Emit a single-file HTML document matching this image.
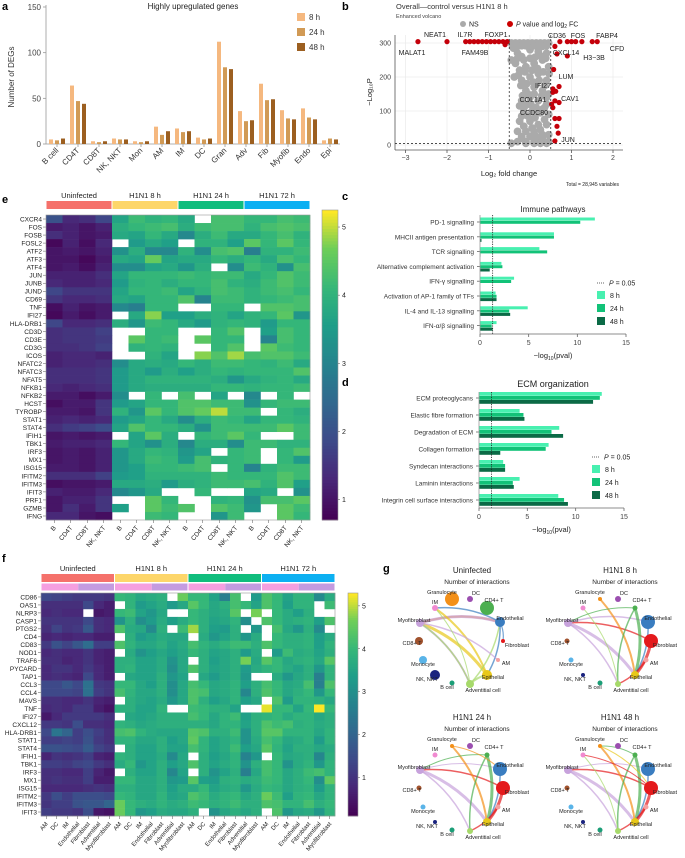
<!DOCTYPE html>
<html><head><meta charset="utf-8">
<style>
html,body{margin:0;padding:0;background:#fff;}
svg{display:block;font-family:"Liberation Sans",sans-serif;}
</style></head>
<body>
<svg id="fig" width="685" height="858" viewBox="0 0 685 858" xmlns="http://www.w3.org/2000/svg"></svg>
<script>
// ---------- DATA ----------
const degCategories = ["B cell","CD4T","CD8T","NK, NKT","Mon","AM","IM","DC","Gran","Adv","Fib","Myofib","Endo","Epi"];
const deg8h  = [5,64,3,6,3,19,17,7,112,36,66,37,39,4];
const deg24h = [4,47,2,5,2,10,13,5,84,25,48,28,29,6];
const deg48h = [6,44,3,5,3,14,14,6,82,26,49,27,27,5];
const degTicks = [0,50,100,150];

const volcanoNSx = [-0.45,-0.35,-0.25,-0.15,-0.05,0.05,0.15,0.25,0.35,0.45,-0.4,-0.3,-0.45,-0.35,-0.2,0,0.2,0.4,0.3,-0.25,-0.1,0.1,0.45,-0.2,0,0.2,0.4,-0.1,0.1,0.3,0.45,-0.2,0,0.2,0.4,-0.15,0.05,0.25,0.45,-0.25,0,0.2,0.4,-0.3,-0.1,0.1,0.3,0.45,-0.3,-0.1,0.1,0.3,0.45,-0.45,-0.2,0.2,-0.05,0.35,-0.38,0.15,
 -0.42,-0.3,-0.2,-0.1,0,0.1,0.2,0.3,0.4,-0.3,-0.15,0,0.12,0.25,0.38,-0.28,-0.12,0.05,0.18,0.32,0.46,-0.22,-0.08,0.08,0.22,0.36,-0.18,-0.05,0.1,0.28,0.4,-0.25,-0.12,0.02,0.15,0.3,-0.2,-0.05,0.12,0.35,-0.15,0.05,0.25,-0.2,0.0,0.15,0.3,-0.1,0.1,0.25,0.4];
const volcanoNSy = [300,300,300,300,300,300,300,300,300,300,285,270,250,240,260,280,275,270,250,220,230,240,230,190,200,210,190,160,170,160,150,130,140,130,120,100,100,95,90,70,70,60,60,40,40,40,30,30,10,10,10,10,10,5,20,20,120,110,200,180,
 292,290,292,292,292,292,292,290,292,255,250,255,258,262,255,205,215,220,225,215,210,175,180,185,190,175,145,150,150,145,140,115,115,120,110,105,85,85,80,75,55,50,45,25,25,25,20,5,5,5,5];
const volcanoSigX = [-2.7,-2.0,-1.55,-1.45,-1.35,-1.25,-1.15,-1.05,-0.95,-0.85,-0.75,-0.65,-0.55,-0.6,0.6,0.72,0.9,1.0,1.1,1.25,1.5,1.62,0.65,0.9,0.57,0.55,0.55,0.62,0.7,0.52,0.55,0.6,0.7,0.6,0.7,0.65,0.68,0.6];
const volcanoSigY = [304,304,304,304,304,304,304,304,304,304,304,304,304,295,290,304,304,304,304,304,304,304,268,262,222,165,155,158,172,120,110,130,125,78,78,55,35,12];
const volcanoXTicks = [-3,-2,-1,0,1,2];
const volcanoYTicks = [0,100,200,300];

const immuneCats = ["PD-1 signalling","MHCII antigen presentation","TCR signalling","Alternative complement activation","IFN-γ signalling","Activation of AP-1 family of TFs","IL-4 and IL-13 signalling","IFN-α/β signalling"];
const immune8h  = [11.8,7.6,6.1,2.2,3.5,1.6,4.9,1.7];
const immune24h = [10.3,7.6,6.9,2.3,3.2,1.7,3.0,1.2];
const immune48h = [0,0.15,0.05,1.0,0,1.7,3.1,1.3];
const ecmCats = ["ECM proteoglycans","Elastic fibre formation","Degradation of ECM","Collagen formation","Syndecan interactions","Laminin interactions","Integrin cell surface interactions"];
const ecm8h  = [12.7,4.2,8.3,7.2,2.5,4.2,8.2];
const ecm24h = [12.5,4.6,7.5,6.9,2.7,3.5,8.8];
const ecm48h = [11.8,4.7,8.7,2.2,2.7,3.6,9.2];
const pvalTicks = [0,5,10,15];

const eGenes = ["CXCR4","FOS","FOSB","FOSL2","ATF2","ATF3","ATF4","JUN","JUNB","JUND","CD69","TNF","IFI27","HLA-DRB1","CD3D","CD3E","CD3G","ICOS","NFATC2","NFATC3","NFAT5","NFKB1","NFKB2","HCST","TYROBP","STAT1","STAT4","IFIH1","TBK1","IRF3","MX1","ISG15","IFITM2","IFITM3","IFIT3","PRF1","GZMB","IFNG"];
const eCols = ["B","CD4T","CD8T","NK, NKT"];
const groups = ["Uninfected","H1N1 8 h","H1N1 24 h","H1N1 72 h"];
const N=null;
const eValues = [
[2.0,1.3,1.4,1.8,3.7,4.2,4.0,4.1,3.8,N,4.3,4.3,4.1,4.1,4.3,4.2],
[1.1,1.2,1.0,1.2,3.9,4.1,4.2,4.3,3.9,4.2,4.3,4.3,4.0,4.3,4.4,4.3],
[1.4,1.2,1.0,1.1,3.8,3.7,4.1,3.8,3.1,3.9,4.2,3.8,3.8,4.1,4.3,4.0],
[0.8,1.2,0.9,1.3,N,3.5,3.8,3.6,N,4.0,4.0,3.6,4.5,4.1,4.5,4.1],
[1.0,1.1,1.0,1.2,3.3,3.9,3.1,3.1,4.0,3.2,4.3,4.4,2.9,4.0,4.0,4.2],
[1.0,1.0,0.8,1.1,3.8,3.7,4.6,3.7,3.8,3.8,4.1,3.9,4.1,3.8,4.3,4.1],
[1.0,1.1,0.9,1.2,3.2,3.2,3.7,3.8,3.4,3.9,N,3.2,4.2,4.0,3.3,4.3],
[1.2,1.2,1.2,1.4,3.7,4.1,4.1,4.1,4.2,4.1,4.2,4.2,3.8,4.1,4.4,4.2],
[1.3,1.2,1.2,1.3,3.5,4.0,4.1,3.9,4.1,4.1,4.3,4.0,3.9,4.2,4.4,4.2],
[1.8,1.5,1.5,1.5,3.7,4.1,4.1,4.2,3.7,4.0,4.3,4.2,4.0,4.2,4.3,4.1],
[1.5,1.3,1.3,1.4,3.8,3.7,4.1,4.1,4.4,3.0,4.2,4.2,4.0,4.1,4.2,4.3],
[0.9,1.2,1.0,1.1,3.1,2.9,4.1,4.1,N,N,4.1,4.1,N,4.4,4.4,4.3],
[0.8,1.1,0.9,1.1,N,3.8,4.8,3.6,3.6,3.9,4.0,3.7,4.0,4.1,4.5,3.4],
[1.8,1.3,1.3,1.4,3.9,3.4,4.2,4.1,3.8,3.5,4.0,4.1,4.0,3.5,4.1,4.1],
[1.4,1.5,1.5,1.7,N,N,4.1,4.1,N,N,4.1,4.4,N,3.6,4.3,4.1],
[1.4,1.5,1.5,1.6,N,4.5,4.1,4.2,N,4.5,4.1,4.1,N,3.0,4.3,4.1],
[1.4,1.4,1.5,1.7,N,4.0,4.1,4.0,N,N,4.1,4.4,N,4.5,4.2,4.1],
[1.2,1.3,1.3,1.2,N,N,4.0,3.7,N,4.8,4.4,4.9,4.3,4.4,4.4,4.2],
[1.2,1.3,1.3,1.4,3.2,3.8,3.9,3.8,4.1,3.9,4.2,4.2,4.1,4.0,4.2,3.8],
[1.4,1.4,1.4,1.5,3.5,3.8,3.5,3.9,3.6,3.9,4.1,4.0,4.1,4.1,4.1,4.4],
[1.4,1.4,1.4,1.5,3.5,3.8,4.0,4.0,4.0,4.0,3.9,3.4,3.8,4.0,4.1,3.8],
[1.3,1.2,1.3,1.4,3.5,3.8,3.9,3.9,3.9,3.9,4.1,4.1,4.0,4.1,4.1,4.2],
[1.1,1.1,0.9,1.1,3.2,N,4.1,N,4.3,N,3.7,N,3.1,N,4.1,N],
[0.9,1.1,1.1,1.5,3.5,3.7,4.1,4.1,4.4,4.4,4.2,4.2,3.3,4.1,4.2,4.2],
[1.1,1.1,1.0,1.5,4.0,3.4,4.5,4.1,4.4,4.6,5.0,4.2,4.2,N,4.1,3.9],
[1.2,1.3,1.2,1.3,3.5,3.7,4.1,3.8,3.2,3.9,4.2,4.1,3.7,4.1,4.1,4.0],
[1.4,1.6,1.7,1.9,3.7,4.4,4.1,4.1,3.9,3.3,4.2,4.2,4.2,4.2,4.5,4.2],
[1.0,1.1,1.0,1.1,N,3.7,4.5,3.9,N,4.1,4.2,4.5,4.1,N,N,4.2],
[1.1,1.2,1.2,1.3,4.1,3.7,3.3,3.9,3.1,3.9,3.9,3.2,4.2,4.2,4.0,4.0],
[1.0,1.1,1.0,1.2,3.4,3.8,4.1,4.0,3.4,3.7,N,4.1,4.2,N,4.1,4.4],
[1.0,1.1,1.0,1.2,3.4,3.8,4.2,4.1,3.5,4.3,4.0,4.1,4.2,N,4.1,3.5],
[1.1,1.1,1.0,1.2,3.4,3.6,4.1,4.1,4.2,4.3,N,4.1,3.0,4.0,4.2,4.2],
[1.4,1.4,1.4,1.7,3.5,3.6,4.0,4.0,4.0,4.0,4.2,4.1,4.1,4.1,4.4,4.2],
[0.9,1.0,1.0,1.1,3.8,3.8,3.9,3.5,3.9,4.0,4.2,4.2,4.3,4.0,4.4,3.6],
[1.2,1.1,1.1,1.3,3.1,3.4,3.8,N,N,4.1,N,N,3.7,3.8,N,3.3],
[1.0,1.2,1.2,1.5,N,N,4.5,4.1,N,N,4.0,4.1,3.3,4.3,4.3,4.5],
[1.0,1.4,1.1,1.5,3.6,N,4.5,4.2,4.4,N,4.4,4.2,3.4,N,4.5,4.2],
[1.3,1.3,1.0,0.9,N,N,4.2,4.1,N,N,3.4,4.2,N,N,4.5,4.1]];
const eColorTicks = [1,2,3,4,5];

const fGenes = ["CD86","OAS1","NLRP3","CASP1","PTGS2","CD4","CD83","NOD1","TRAF6","PYCARD","TAP1","CCL3","CCL4","MAVS","TNF","IFI27","CXCL12","HLA-DRB1","STAT1","STAT4","IFIH1","TBK1","IRF3","MX1","ISG15","IFITM2","IFITM3","IFIT3"];
const fCols = ["AM","DC","IM","Endothelial","Fibroblast","Adventitial","Myofibroblast"];
const fValues = [
[1.4,1.3,1.2,1.1,1.1,1.1,1.0,4.0,3.9,3.6,3.7,3.8,N,4.6,4.0,4.0,3.5,2.6,4.2,N,3.3,4.3,4.0,3.5,3.9,3.9,2.9,3.7],
[0.9,0.9,0.9,0.9,1.4,0.8,0.6,N,3.9,3.3,3.5,3.7,3.3,3.6,4.4,4.0,3.6,3.8,4.2,4.0,3.5,4.3,4.0,3.4,3.9,3.9,N,4.1],
[0.8,0.9,0.8,0.8,N,0.5,0.6,4.0,4.1,3.5,3.2,3.6,N,N,4.0,3.8,3.6,3.7,4.4,N,4.7,N,4.0,3.7,3.4,3.8,N,N],
[1.0,1.0,1.0,1.0,1.4,0.9,0.8,3.1,3.8,3.0,3.3,3.7,3.4,3.7,4.0,3.8,3.5,3.6,3.9,3.0,N,4.3,4.0,3.7,3.8,3.9,3.4,4.3],
[0.9,1.3,1.0,1.1,1.7,0.9,0.8,4.3,3.7,3.6,2.9,3.8,N,4.1,4.9,3.8,3.4,3.3,3.8,N,3.2,N,4.2,3.6,3.2,3.8,2.9,N],
[0.7,0.8,0.7,0.8,0.8,0.6,0.6,N,3.8,3.3,3.5,3.7,3.6,3.6,N,3.7,3.2,3.5,3.8,3.2,3.7,N,4.0,3.8,3.8,3.9,3.4,3.7],
[1.1,1.6,1.3,1.7,2.2,1.2,1.2,4.3,3.9,3.6,3.6,3.8,3.5,3.7,4.2,3.9,3.7,3.9,4.1,4.1,3.8,4.3,4.0,3.8,3.8,3.9,3.4,3.9],
[0.8,0.9,0.8,0.8,1.0,0.7,0.6,N,3.7,3.1,3.4,3.6,3.4,3.6,4.0,3.8,3.5,3.6,3.8,3.3,3.7,N,3.3,4.1,3.7,3.8,3.5,3.8],
[0.9,0.9,0.7,0.8,1.0,0.7,0.6,3.8,3.8,3.5,3.5,3.7,3.1,3.6,N,3.8,3.4,3.6,3.8,4.7,3.6,4.4,4.0,3.6,3.8,3.9,3.6,4.4],
[0.8,1.0,1.0,0.8,1.1,0.8,0.6,3.8,3.9,3.5,3.5,3.7,3.0,3.6,4.3,3.8,3.5,3.6,3.8,3.3,3.7,3.9,4.0,3.7,3.5,3.8,3.2,3.9],
[0.8,0.9,0.8,0.7,1.4,0.8,0.6,N,3.6,3.5,3.5,3.8,3.2,3.5,N,3.6,3.3,3.6,3.8,3.2,N,N,3.7,3.2,3.6,3.8,2.6,3.9],
[1.4,1.4,1.7,1.4,2.3,1.1,1.0,4.0,4.0,3.6,3.4,3.8,3.0,3.6,4.2,4.0,3.6,3.7,3.9,3.4,3.8,4.2,4.0,3.6,3.7,4.2,2.6,4.3],
[1.4,1.4,1.4,1.3,2.3,1.2,1.0,4.2,3.9,3.6,3.6,3.8,3.0,3.6,4.3,4.2,3.6,3.7,3.9,2.8,3.8,4.3,4.0,3.6,3.8,4.0,3.2,4.0],
[0.9,0.9,0.8,0.8,1.0,0.7,0.6,N,3.8,3.6,3.5,3.7,3.2,3.6,4.3,3.8,3.4,3.6,3.9,3.4,3.6,N,4.3,3.3,3.9,3.9,3.8,3.6],
[0.8,0.9,0.8,1.1,1.1,0.6,0.4,3.8,3.8,3.5,3.5,3.9,N,N,4.1,4.0,3.8,3.8,3.5,N,N,5.2,4.0,4.0,3.5,4.0,5.3,4.0],
[0.5,0.8,1.1,1.1,1.1,1.1,0.9,N,3.6,3.5,3.6,3.8,3.8,3.8,4.2,4.0,3.6,3.9,4.1,3.4,3.8,3.9,4.0,3.7,3.9,3.9,3.6,3.8],
[1.1,1.1,1.0,1.5,0.9,0.9,0.8,3.9,3.8,3.6,3.7,3.8,3.8,3.8,3.8,3.8,3.6,3.9,3.9,3.5,3.8,4.3,4.1,4.2,3.8,3.9,3.7,3.8],
[1.4,2.4,2.0,1.2,1.5,1.2,0.9,4.2,4.3,3.9,3.7,3.6,3.6,3.6,4.4,4.3,3.8,3.8,4.1,3.1,3.8,4.4,4.4,3.9,3.9,3.9,3.6,3.9],
[1.2,1.2,1.3,1.2,1.6,1.1,0.9,3.9,3.9,3.6,3.6,3.8,3.4,3.6,4.5,3.9,3.5,3.7,3.9,3.1,3.7,4.2,4.0,3.6,3.7,3.9,3.3,3.9],
[1.6,1.6,1.5,1.4,1.8,1.3,1.1,N,3.8,3.5,3.5,3.8,3.5,3.5,4.2,3.9,3.5,3.7,4.1,3.4,3.6,4.4,3.9,3.5,3.8,3.8,3.6,3.7],
[0.7,1.0,0.9,1.0,1.2,0.7,0.6,3.9,3.8,3.5,3.5,3.7,2.9,3.6,N,3.8,3.4,3.6,3.9,2.7,3.2,N,4.0,3.6,3.7,3.8,2.8,3.8],
[1.2,1.2,1.1,1.3,1.4,1.1,0.9,3.7,4.0,3.2,3.5,3.8,3.4,3.6,4.3,3.8,3.5,3.7,3.9,3.1,3.8,4.2,4.0,3.1,3.7,3.9,3.2,3.9],
[0.9,0.9,0.8,0.8,1.2,0.7,0.5,N,3.8,3.5,3.5,3.8,2.8,3.5,N,3.8,3.1,3.5,3.8,2.6,3.6,4.2,4.0,3.6,3.8,4.1,4.2,3.9],
[0.9,1.0,0.9,0.9,1.2,0.6,0.6,4.0,4.0,3.6,3.6,3.8,3.2,3.3,4.4,3.4,3.3,3.8,3.9,3.7,3.8,4.1,4.0,3.6,3.8,4.0,3.0,4.5],
[0.8,0.8,0.8,0.8,0.9,1.0,0.9,3.8,3.8,3.6,3.6,3.8,3.4,3.7,3.7,4.0,3.5,3.7,3.8,3.2,3.7,4.0,3.9,3.6,3.8,3.9,3.3,3.9],
[1.1,1.5,1.2,1.5,1.5,1.5,1.4,4.0,3.9,3.6,3.6,3.9,3.5,3.6,4.3,4.1,3.7,3.9,4.0,3.6,3.8,4.6,4.1,3.4,3.9,4.0,3.6,3.9],
[1.0,1.2,1.2,1.6,1.7,1.7,2.0,4.6,4.0,3.8,3.7,3.9,3.7,3.8,4.1,4.0,3.8,3.9,4.1,3.8,3.8,4.3,4.2,3.9,3.9,4.2,3.8,4.0],
[1.2,1.1,1.1,1.0,1.5,0.5,0.4,4.6,4.0,3.2,3.4,3.7,3.6,3.6,3.8,N,3.1,3.6,3.8,3.6,3.8,N,4.3,3.2,3.6,3.7,3.2,3.9]];
const fColorTicks = [1,2,3,4,5];

const netNodes = ["Granulocyte","DC","CD4+ T","IM","Myofibroblast","Endothelial","Fibroblast","CD8+ T","AM","Monocyte","NK, NKT","Epithelial","B cell","Adventitial cell"];
const netTitles = ["Uninfected","H1N1 8 h","H1N1 24 h","H1N1 48 h"];
const netSizesU   = [7,3,7,3,4,5,2,4,2,4,5,5,2.5,4];
const netSizes8h  = [2,3,2.5,2.5,4,7,7,2.5,2.5,2.5,2,4,2.5,3];
const netSizes24h = [2,3,2.5,2.5,4,7,7,2.5,2.5,2.5,2,4,2.5,3];
const netSizes48h = [2,3,2.5,2.5,4,7,7,2.5,2.5,2.5,2,4,2.5,3];
const netEdgesU = [[4,5,2,0],[4,5,3,4],[3,5,1.5,5],[3,11,2,11],[4,11,3,11],[4,13,2,4],[4,13,1.5,13],[5,13,1.5,13],[5,11,1.5,5],[5,6,1.2,5],[4,8,1.5,4],[13,11,2,13],[3,13,1,13]];
const netEdges8h = [[4,6,1.5,6],[4,5,1.5,4],[4,11,3,4],[4,13,1.5,4],[2,11,3,2],[0,11,2,0],[6,11,3,6],[5,11,1.5,5],[8,13,1.5,6],[13,2,1.5,2],[3,13,1,13],[4,2,1,2]];
const netEdges24h = [[4,6,1.5,6],[4,5,1,4],[4,11,3,4],[4,13,1.5,4],[2,11,3,2],[0,11,2,0],[6,11,3,6],[5,11,1.5,5],[8,13,1.5,6],[13,2,1.5,2],[4,2,1,2],[0,5,1,0]];
const netEdges48h = [[4,6,1.5,6],[4,5,1,4],[4,11,3,4],[4,13,1.5,4],[2,11,3,2],[0,11,2,0],[6,11,3,6],[5,11,1.5,5],[8,13,1.5,6],[13,2,1.5,2],[3,6,1,6],[0,6,1,11],[0,2,1,2],[3,13,1,13]];

// ---------- HELPERS ----------
const svg=document.getElementById('fig');
const NS='http://www.w3.org/2000/svg';
function el(tag,attrs,name,inter){
  const e=document.createElementNS(NS,tag);
  for(const k in attrs) e.setAttribute(k,attrs[k]);
  
  
  svg.appendChild(e);return e;
}
function txt(x,y,s,name,o){
  o=o||{};
  const e=el('text',{x:x,y:y,'font-size':o.size||7,'text-anchor':o.anchor||'start',fill:o.fill||'#222','font-weight':o.weight||'normal'},name,false);
  if(o.rot!==undefined) e.setAttribute('transform','rotate('+o.rot+' '+x+' '+y+')');
  e.textContent=s;return e;
}
function line(x1,y1,x2,y2,name,o){o=o||{};return el('line',{x1:x1,y1:y1,x2:x2,y2:y2,stroke:o.stroke||'#333','stroke-width':o.w||0.8,'stroke-dasharray':o.dash||'none'},name,false);}
function rect(x,y,w,h,fill,name){return el('rect',{x:x,y:y,width:w,height:h,fill:fill},name,false);}
const vir=[[0,[68,1,84]],[0.13,[72,40,120]],[0.25,[62,73,137]],[0.38,[49,104,142]],[0.5,[38,130,142]],[0.63,[31,158,137]],[0.75,[53,183,121]],[0.88,[110,206,88]],[1,[253,231,37]]];
function viridis(t){t=Math.max(0,Math.min(1,t));for(let i=1;i<vir.length;i++){if(t<=vir[i][0]){const a=vir[i-1],b=vir[i];const f=(t-a[0])/(b[0]-a[0]);const c=a[1].map((v,j)=>Math.round(v+(b[1][j]-v)*f));return 'rgb('+c.join(',')+')';}}return 'rgb(253,231,37)';}

// panel letters
txt(2,10,'a','panel-label-a',{size:11,weight:'bold',fill:'#000'});
txt(342,10,'b','panel-label-b',{size:11,weight:'bold',fill:'#000'});
txt(2,203,'e','panel-label-e',{size:11,weight:'bold',fill:'#000'});
txt(342,200,'c','panel-label-c',{size:11,weight:'bold',fill:'#000'});
txt(342,386,'d','panel-label-d',{size:11,weight:'bold',fill:'#000'});
txt(2,562,'f','panel-label-f',{size:11,weight:'bold',fill:'#000'});
txt(383,572,'g','panel-label-g',{size:11,weight:'bold',fill:'#000'});

// ---------- PANEL A ----------
(function(){
  const y=v=>144-v*137/150, cx=i=>57+21*i;
  txt(193,9,'Highly upregulated genes','a-title',{size:8,anchor:'middle'});
  line(46,5,46,144,'a-y-axis',{stroke:'#999'});
  line(46,144,340,144,'a-x-axis',{stroke:'#999'});
  degTicks.forEach(t=>{line(43,y(t),46,y(t),'a-y-tick',{stroke:'#999'});txt(41,y(t)+3,String(t),'a-y-tick-label',{size:8,anchor:'end',fill:'#444'});});
  txt(14,77,'Number of DEGs','a-y-axis-title',{size:8,anchor:'middle',rot:-90,fill:'#333'});
  const cols=['#f5b87f','#d19a55','#9c5f20'];
  degCategories.forEach((c,i)=>{
    const xs=cx(i);
    [deg8h,deg24h,deg48h].forEach((arr,k)=>{rect(xs-8+k*6,y(arr[i]),4,144-y(arr[i]),cols[k],'a-bar-'+c.replace(/[^a-z0-9]/gi,'').toLowerCase()+'-'+['8h','24h','48h'][k]);});
    line(xs,144,xs,147,'a-x-tick',{stroke:'#999'});
    txt(xs+2,151,c,'a-x-tick-label',{size:8,anchor:'end',rot:-45,fill:'#333'});
  });
  ['8 h','24 h','48 h'].forEach((l,k)=>{rect(297,13+k*15,8,8,cols[k],'a-legend-swatch-'+k);txt(309,20+k*15,l,'a-legend-label',{size:8,fill:'#333'});});
})();

// ---------- PANEL B ----------
(function(){
  const x=v=>530+v*41.5, y=v=>145-v*0.34;
  txt(396,9,'Overall—control versus H1N1 8 h','b-title',{size:7.5,fill:'#333'});
  txt(396,18,'Enhanced volcano','b-subtitle',{size:5.5,fill:'#444'});
  el('circle',{cx:463,cy:24,r:3,fill:'#aaa'},'b-legend-ns-dot',false);txt(469,26.5,'NS','b-legend-ns',{size:7});
  el('circle',{cx:510,cy:24,r:3,fill:'#c00'},'b-legend-sig-dot',false);
  const lt=txt(516,26.5,'','b-legend-sig',{size:7});lt.innerHTML='<tspan font-style="italic">P</tspan> value and log<tspan font-size="5" dy="1.5">2</tspan><tspan dy="-1.5"> FC</tspan>';
  volcanoXTicks.forEach(t=>{line(x(t),35,x(t),150,'b-grid-x',{stroke:'#e6e6e6',w:0.6});line(x(t),150,x(t),153,'b-x-tick',{stroke:'#555'});txt(x(t),160,t<0?'−'+(-t):String(t),'b-x-tick-label',{size:7,anchor:'middle',fill:'#444'});});
  volcanoYTicks.forEach(t=>{line(395,y(t),623,y(t),'b-grid-y',{stroke:'#e6e6e6',w:0.6});txt(391,y(t)+2.5,String(t),'b-y-tick-label',{size:7,anchor:'end',fill:'#444'});});
  line(395,35,395,150,'b-y-axis',{stroke:'#555'});line(395,150,623,150,'b-x-axis',{stroke:'#555'});
  volcanoNSx.forEach((v,i)=>{el('circle',{cx:x(v),cy:y(volcanoNSy[i]),r:3.9,fill:'#aaa'},'b-ns-point',false);});
  volcanoSigX.forEach((v,i)=>{el('circle',{cx:x(v),cy:y(volcanoSigY[i]),r:2.6,fill:'#c4000a'},'b-sig-point',false);});
  line(x(-0.5),35,x(-0.5),150,'b-threshold-neg',{dash:'2,2'});line(x(0.5),35,x(0.5),150,'b-threshold-pos',{dash:'2,2'});
  line(395,y(1.3)-1,623,y(1.3)-1,'b-threshold-p',{dash:'2,2'});
  const labs=[['NEAT1',435,37],['MALAT1',412,55],['IL7R',465,37],['FOXP1',496,37],['FAM49B',475,55],['CD36',557,38],['FOS',578,38],['FABP4',607,38],['CFD',617,51],['CXCL14',566,55],['H3−3B',594,60],['LUM',566,79],['IFI27',543,88],['CAV1',570,101],['COL1A1',533,102],['CCDC80',534,115],['JUN',568,142]];
  labs.forEach(l=>txt(l[1],l[2],l[0],'b-gene-label',{size:7,anchor:'middle'}));
  txt(509,176,'Log₂ fold change','b-x-axis-title',{size:7.5,anchor:'middle'});
  txt(372,92,'−Log₁₀P','b-y-axis-title',{size:7.5,anchor:'middle',rot:-90});
  txt(619,186,'Total = 28,945 variables','b-total-note',{size:5,anchor:'end'});
})();

// ---------- PANELS C/D ----------
function barPanel(p,cats,a8,a24,a48,title){
  const x=v=>p.x0+v*(p.x15-p.x0)/15;
  txt(553,p.titleY,title,p.id+'-title',{size:p.tsize,anchor:'middle'});
  const cols=['#48f0b0','#12c278','#0b6a46'];
  cats.forEach((c,i)=>{
    const yc=p.c0+i*p.step;
    [a8,a24,a48].forEach((arr,k)=>{if(arr[i]>0) rect(x(0),yc+p.off[k],x(arr[i])-x(0),p.bh,cols[k],p.id+'-bar-'+i+'-'+['8h','24h','48h'][k]);});
    line(x(0)-3,yc,x(0),yc,p.id+'-y-tick',{stroke:'#666'});
    txt(x(0)-6,yc+2.5,c,p.id+'-category-label',{size:6.5,anchor:'end',fill:'#333'});
  });
  line(x(0),p.top,x(0),p.bot,p.id+'-y-axis',{stroke:'#999'});
  line(x(0),p.bot,p.x15,p.bot,p.id+'-x-axis',{stroke:'#666'});
  pvalTicks.forEach(t=>{line(x(t),p.bot,x(t),p.bot+3,p.id+'-x-tick',{stroke:'#666'});txt(x(t),p.bot+11,String(t),p.id+'-x-tick-label',{size:7,anchor:'middle',fill:'#444'});});
  line(x(1.3),p.top,x(1.3),p.bot,p.id+'-p-threshold',{stroke:'#222',dash:'1.2,1.2'});
  const at=txt(x(7.5),p.bot+24,'','x-axis-title',{size:7.5,anchor:'middle'});at.innerHTML='−log<tspan font-size="5" dy="2">10</tspan><tspan dy="-2">(pval)</tspan>';
  line(p.lx,p.ly,p.lx+8,p.ly,p.id+'-legend-pline',{stroke:'#333',dash:'1,1'});
  const pt=txt(p.lx+12,p.ly+2.5,'',p.id+'-legend-p',{size:7});pt.innerHTML='<tspan font-style="italic">P</tspan> = 0.05';
  ['8 h','24 h','48 h'].forEach((l,k)=>{rect(p.lx,p.ly+8+k*13,8,8,cols[k],p.id+'-legend-swatch');txt(p.lx+13,p.ly+15+k*13,l,p.id+'-legend-label',{size:7});});
}
barPanel({id:'c',x0:480,x15:626,titleY:212,tsize:8,c0:222,step:14.8,off:[-4.5,-1.2,2.1],bh:3,top:215,bot:334,lx:597,ly:283},immuneCats,immune8h,immune24h,immune48h,'Immune pathways');
barPanel({id:'d',x0:479,x15:624,titleY:387,tsize:9,c0:398,step:17,off:[-6,-2,2],bh:3.8,top:392,bot:508,lx:592,ly:457},ecmCats,ecm8h,ecm24h,ecm48h,'ECM organization');

// ---------- HEATMAPS ----------
const groupColors=['#f5716b','#fdd66a','#10bd7d','#0cb0f2'];
function heatmap(p,genes,colsNames,vals,ticks){
  const nC=colsNames.length*4, cw=(p.x1-p.x0)/nC, rh=(p.y1-p.y0)/genes.length;
  groups.forEach((g,gi)=>{
    const gx=p.x0+gi*colsNames.length*cw;
    rect(gx+0.5,p.hy,colsNames.length*cw-1,p.hh,groupColors[gi],p.id+'-group-bar');
    txt(gx+colsNames.length*cw/2,p.hy-3,g,p.id+'-group-label',{size:p.gs,anchor:'middle'});
    if(p.sub){rect(gx+0.5,p.hy+p.hh+1.5,cw*3.5,p.hh-1,'#f59fe0',p.id+'-subgroup-bar');rect(gx+0.5+cw*3.5,p.hy+p.hh+1.5,colsNames.length*cw-1-cw*3.5,p.hh-1,'#c49be0',p.id+'-subgroup-bar');}
  });
  vals.forEach((row,r)=>{
    row.forEach((v,c)=>{ if(v!==null) rect(p.x0+c*cw,p.y0+r*rh,cw+0.3,rh+0.3,viridis((v-p.vmin)/(p.vmax-p.vmin)),p.id+'-cell'); });
    line(p.x0-3,p.y0+(r+0.5)*rh,p.x0,p.y0+(r+0.5)*rh,p.id+'-row-tick',{stroke:'#555',w:0.5});
    txt(p.x0-4,p.y0+(r+0.5)*rh+2.4,genes[r],p.id+'-row-label',{size:p.rs,anchor:'end'});
  });
  el('rect',{x:p.x0,y:p.y0,width:p.x1-p.x0,height:p.y1-p.y0,fill:'none',stroke:'#999','stroke-width':0.6},p.id+'-frame',false);
  for(let c=0;c<nC;c++){
    const xc=p.x0+(c+0.5)*cw;
    line(xc,p.y1,xc,p.y1+3,p.id+'-col-tick',{stroke:'#555',w:0.5});
    txt(xc+2,p.y1+8,colsNames[c%colsNames.length],p.id+'-col-label',{size:p.cs,anchor:'end',rot:-50});
  }
  const cbH=p.cb1-p.cb0;
  for(let i=0;i<100;i++){rect(p.cbx,p.cb1-(i+1)*cbH/100,p.cbw,cbH/100+0.4,viridis(i/99),p.id+'-colorbar-step');}
  el('rect',{x:p.cbx,y:p.cb0,width:p.cbw,height:cbH,fill:'none',stroke:'#999','stroke-width':0.6},p.id+'-colorbar-frame',false);
  ticks.forEach(t=>{const yy=p.cb1-(t-p.vmin)/(p.vmax-p.vmin)*cbH;line(p.cbx+p.cbw,yy,p.cbx+p.cbw+2,yy,p.id+'-colorbar-tick',{stroke:'#555',w:0.5});txt(p.cbx+p.cbw+4,yy+2.5,String(t),p.id+'-colorbar-label',{size:7});});
}
heatmap({id:'e',x0:46,x1:310,y0:215,y1:520,hy:201,hh:8,gs:7.5,rs:6.5,cs:6.5,vmin:0.7,vmax:5.25,cbx:322,cbw:16,cb0:210,cb1:520,sub:false},eGenes,eCols,eValues,eColorTicks);
heatmap({id:'f',x0:41,x1:335,y0:593,y1:816,hy:574,hh:8,gs:7.5,rs:6.5,cs:6,vmin:0.1,vmax:5.3,cbx:348,cbw:10,cb0:593,cb1:816,sub:true},fGenes,fCols,fValues,fColorTicks);

// ---------- PANEL G ----------
(function(){
  const pos=[[72,39],[90,39],[107,48],[55,48],[40,63],[120,62],[123,81],[39,81],[118,100],[43,100],[55,115],[107,115],[72,123],[90,124]];
  const labPos=[[62,34,'middle'],[92,35,'start'],[114,42,'middle'],[55,44,'middle'],[34,62,'middle'],[130,60,'middle'],[137,87,'middle'],[32,85,'middle'],[126,105,'middle'],[43,106,'middle'],[47,121,'middle'],[113,119,'middle'],[67,129,'middle'],[103,132,'middle']];
  const cols=['#f39019','#9b4fb0','#4caf50','#f08ad0','#c7a2dc','#3a7dc0','#e41a1c','#a0522d','#f5a0a0','#5ab4e8','#1a237e','#e8c81a','#1b9e77','#a6d96a'];
  const origins=[[380,560],[528,560],[380,707],[528,707]];
  const sizes=[netSizesU,netSizes8h,netSizes24h,netSizes48h];
  const edges=[netEdgesU,netEdges8h,netEdges24h,netEdges48h];
  origins.forEach((o,pi)=>{
    txt(o[0]+92,o[1]+13,netTitles[pi],'g-title',{size:8,anchor:'middle'});
    txt(o[0]+97,o[1]+24,'Number of interactions','g-subtitle',{size:6.5,anchor:'middle'});
    edges[pi].forEach(e=>{
      const a=pos[e[0]],b=pos[e[1]];
      const x1=o[0]+a[0],y1=o[1]+a[1],x2=o[0]+b[0],y2=o[1]+b[1];
      const mx=(x1+x2)/2,my=(y1+y2)/2,dx=x2-x1,dy=y2-y1;
      const cx=mx+dy*0.15,cy=my-dx*0.15;
      el('path',{d:'M'+x1+','+y1+' Q'+cx+','+cy+' '+x2+','+y2,fill:'none',stroke:cols[e[3]],'stroke-width':e[2],'stroke-opacity':0.7},'g-edge',false);
    });
    pos.forEach((p,i)=>{
      el('circle',{cx:o[0]+p[0],cy:o[1]+p[1],r:sizes[pi][i],fill:cols[i]},'g-node-'+netNodes[i].replace(/[^a-z]/gi,'').toLowerCase(),false);
      txt(o[0]+labPos[i][0],o[1]+labPos[i][1],netNodes[i],'g-node-label',{size:5.5,anchor:labPos[i][2]});
    });
  });
})();
</script>
</body></html>
